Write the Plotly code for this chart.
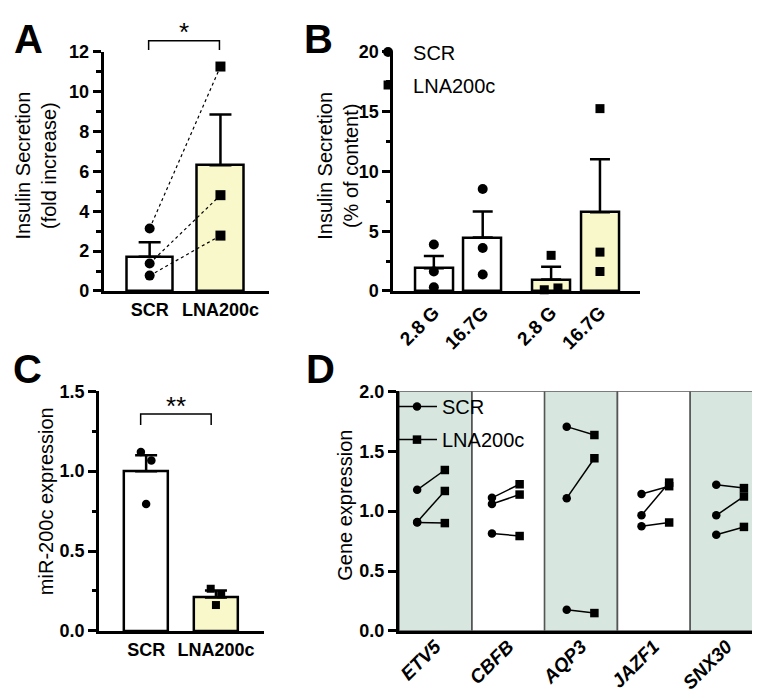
import plotly.graph_objects as go

W, H = 760, 698
FONT = "Arial, Liberation Sans, Helvetica, sans-serif"
YELLOW = "#f8f8ca"
SHADE = "#d7e7e0"

# ---------------- data ----------------
# Panel A: insulin secretion (fold increase)
a_groups = ["SCR", "LNA200c"]
a_mean = [1.72, 6.31]
a_sem = [0.73, 2.55]
a_scr = [3.14, 1.38, 0.77]
a_lna = [11.27, 4.81, 2.78]

# Panel B: insulin secretion (% of content)
b_labels = ["2.8 G", "16.7G", "2.8 G", "16.7G"]
b_mean = [1.90, 4.47, 0.95, 6.59]
b_sem = [1.03, 2.17, 1.08, 4.44]
b_scr_28 = [3.88, 1.63, 0.30]
b_scr_167 = [8.54, 3.60, 1.38]
b_lna_28 = [2.98, 0.10, 0.25]
b_lna_167 = [15.26, 3.25, 1.63]

# Panel C: miR-200c expression
c_groups = ["SCR", "LNA200c"]
c_mean = [1.00, 0.209]
c_sem = [0.10, 0.044]
c_scr = [1.12, 1.066, 0.795]
c_lna = [0.264, 0.229, 0.162]

# Panel D: gene expression, SCR -> LNA200c pairs
d_genes = ["ETV5", "CBFB", "AQP3", "JAZF1", "SNX30"]
d_scr = [[1.178, 0.91, 0.905], [1.111, 1.059, 0.814], [1.705, 1.108, 0.176],
         [1.143, 0.965, 0.873], [1.219, 0.965, 0.803]]
d_lna = [[1.343, 1.168, 0.90], [1.224, 1.138, 0.792], [1.635, 1.441, 0.149],
         [1.208, 1.238, 0.905], [1.192, 1.122, 0.868]]


def px(x):
    return x / W


def py(y):
    return 1 - y / H


fig = go.Figure()

# ---------------- Panel A ----------------
a_pos = [0, 1]
fig.add_trace(go.Bar(
    x=a_pos, y=a_mean, width=0.66,
    marker=dict(color=["white", YELLOW], line=dict(color="black", width=2.5)),
    error_y=dict(type="data", symmetric=False, array=a_sem, arrayminus=[0, 0],
                 color="black", thickness=2.5, width=11),
    xaxis="x", yaxis="y", showlegend=False, hoverinfo="skip"))
xs, ys, syms = [], [], []
for s, l in zip(a_scr, a_lna):
    xs += [a_pos[0], a_pos[1], None]
    ys += [s, l, None]
    syms += ["circle", "square", "circle"]
fig.add_trace(go.Scatter(
    x=xs, y=ys, mode="lines+markers",
    line=dict(color="black", width=1.2, dash="dot"),
    marker=dict(symbol=syms, size=10, color="black"),
    xaxis="x", yaxis="y", showlegend=False, cliponaxis=False))

# ---------------- Panel B ----------------
b_pos = [0, 1, 2.4, 3.4]
jit_b = [0, -0.14, 0.14]
fig.add_trace(go.Bar(
    x=b_pos, y=b_mean, width=0.78,
    marker=dict(color=["white", "white", YELLOW, YELLOW], line=dict(color="black", width=2.5)),
    error_y=dict(type="data", symmetric=False, array=b_sem, arrayminus=[0, 0, 0, 0],
                 color="black", thickness=2.5, width=10),
    xaxis="x2", yaxis="y2", showlegend=False, hoverinfo="skip"))
fig.add_trace(go.Scatter(
    x=[b_pos[0]] * 3 + [b_pos[1]] * 3, y=b_scr_28 + b_scr_167,
    mode="markers", marker=dict(symbol="circle", size=10, color="black"),
    name="SCR", legend="legend", legendgroup="g1",
    xaxis="x2", yaxis="y2", cliponaxis=False))
fig.add_trace(go.Scatter(
    x=[b_pos[2] + j for j in jit_b] + [b_pos[3]] * 3, y=b_lna_28 + b_lna_167,
    mode="markers", marker=dict(symbol="square", size=9, color="black"),
    name="LNA200c", legend="legend", legendgroup="g2",
    xaxis="x2", yaxis="y2", cliponaxis=False))

# ---------------- Panel C ----------------
c_pos = [0, 1]
jit_c = [-0.075, 0.075, 0]
fig.add_trace(go.Bar(
    x=c_pos, y=c_mean, width=0.64,
    marker=dict(color=["white", YELLOW], line=dict(color="black", width=2.5)),
    error_y=dict(type="data", symmetric=False, array=c_sem, arrayminus=[0, 0],
                 color="black", thickness=2.5, width=11),
    xaxis="x3", yaxis="y3", showlegend=False, hoverinfo="skip"))
fig.add_trace(go.Scatter(
    x=[c_pos[0] + j for j in jit_c], y=c_scr, mode="markers",
    marker=dict(symbol="circle", size=8.5, color="black"),
    xaxis="x3", yaxis="y3", showlegend=False, cliponaxis=False))
fig.add_trace(go.Scatter(
    x=[c_pos[1] + j for j in jit_c], y=c_lna, mode="markers",
    marker=dict(symbol="square", size=8, color="black"),
    xaxis="x3", yaxis="y3", showlegend=False, cliponaxis=False))

# ---------------- Panel D ----------------
scr_off, lna_off, step = 0.25, 0.63, 1.027
xs, ys, syms = [], [], []
for i, g in enumerate(d_genes):
    for s, l in zip(d_scr[i], d_lna[i]):
        xs += [scr_off + step * i, lna_off + step * i, None]
        ys += [s, l, None]
        syms += ["circle", "square", "circle"]
fig.add_trace(go.Scatter(
    x=xs, y=ys, mode="lines+markers",
    line=dict(color="black", width=1.5),
    marker=dict(symbol=syms, size=8.5, color="black"),
    xaxis="x4", yaxis="y4", showlegend=False, cliponaxis=False))
fig.add_trace(go.Scatter(
    x=[None], y=[None], mode="lines+markers", name="SCR",
    line=dict(color="black", width=1.5), marker=dict(symbol="circle", size=8.5, color="black"),
    legend="legend2", legendgroup="d1", xaxis="x4", yaxis="y4"))
fig.add_trace(go.Scatter(
    x=[None], y=[None], mode="lines+markers", name="LNA200c",
    line=dict(color="black", width=1.5), marker=dict(symbol="square", size=8.5, color="black"),
    legend="legend2", legendgroup="d2", xaxis="x4", yaxis="y4"))

# ---------------- axes ----------------
tickfont = dict(family=FONT, size=18, color="black", weight="bold")
base = dict(showline=True, linewidth=3, linecolor="black", showgrid=False,
            zeroline=False, fixedrange=True)
yb = dict(base, ticks="outside", ticklen=8, tickwidth=2.5, tickcolor="black",
          tickfont=tickfont)
xb = dict(base, ticks="", tickfont=tickfont)


def minor(d):
    return dict(ticks="outside", ticklen=4.5, tickwidth=2.5, tickcolor="black",
                dtick=d, showgrid=False)


fig.update_layout(
    width=W, height=H, margin=dict(l=0, r=0, t=0, b=0),
    paper_bgcolor="white", plot_bgcolor="rgba(0,0,0,0)",
    font=dict(family=FONT, color="black"),
    bargap=0,
    xaxis=dict(xb, domain=[px(94), px(260)], range=[-0.648, 1.690], anchor="y",
               tickvals=a_pos, ticktext=a_groups),
    yaxis=dict(yb, domain=[py(281), py(35)], range=[0, 12], anchor="x",
               dtick=2, tick0=0, minor=minor(1)),
    xaxis2=dict(xb, domain=[px(384.3), px(631.7)], range=[-0.83, 4.22], anchor="y2",
                tickvals=b_pos, ticktext=b_labels, tickangle=-45,
                tickfont=dict(family=FONT, size=19, color="black", weight="bold")),
    yaxis2=dict(yb, domain=[py(281), py(35)], range=[0, 20], anchor="x2",
                dtick=5, tick0=0, minor=minor(2.5)),
    xaxis3=dict(xb, domain=[px(89.3), px(255)], range=[-0.674, 1.693], anchor="y3",
                tickvals=c_pos, ticktext=c_groups),
    yaxis3=dict(yb, domain=[py(631), py(384.3)], range=[0, 1.5], anchor="x3",
                dtick=0.5, tick0=0, tickformat=".1f", minor=minor(0.25)),
    xaxis4=dict(xb, domain=[px(390), px(755)], range=[0, 5], anchor="y4",
                tickvals=[i + 0.5 for i in range(len(d_genes))], ticktext=d_genes,
                tickangle=-45, ticklabelstandoff=-6,
                tickfont=dict(family=FONT, size=19, color="black", weight="bold", style="italic")),
    yaxis4=dict(yb, domain=[py(631), py(384.3)], range=[0, 2], anchor="x4",
                dtick=0.5, tick0=0, tickformat=".1f"),
    legend=dict(x=px(354), y=py(15), xanchor="left", yanchor="top",
                bgcolor="rgba(0,0,0,0)", font=dict(family=FONT, size=20, color="black"),
                itemwidth=40, traceorder="grouped", tracegroupgap=4, itemclick=False),
    legend2=dict(x=px(383), y=py(380), xanchor="left", yanchor="top",
                 bgcolor="rgba(0,0,0,0)", font=dict(family=FONT, size=20, color="black"),
                 itemwidth=40, traceorder="grouped", tracegroupgap=4, itemclick=False),
)

# ---------------- shapes ----------------
shapes = []
for i in range(len(d_genes)):
    shapes.append(dict(type="rect", xref="x4", yref="y4", x0=i, x1=i + 1, y0=0, y1=2,
                       fillcolor=SHADE if i % 2 == 0 else "rgba(0,0,0,0)",
                       line=dict(color="#555555", width=1.5), layer="below"))


def bracket(x0, x1, ytop, ybot):
    return dict(type="path", xref="paper", yref="paper",
                path=f"M {px(x0)},{py(ybot)} L {px(x0)},{py(ytop)} L {px(x1)},{py(ytop)} L {px(x1)},{py(ybot)}",
                line=dict(color="black", width=1.5))


shapes.append(bracket(139, 210, 23.3, 33))
shapes.append(bracket(131, 201.7, 407.7, 419))
fig.update_layout(shapes=shapes)

# ---------------- annotations ----------------
ann = []


def text(x, y, t, size, bold=False, angle=0, xanchor="center", yanchor="middle"):
    ann.append(dict(x=px(x), y=py(y), xref="paper", yref="paper", text=t, showarrow=False,
                    textangle=angle, xanchor=xanchor, yanchor=yanchor,
                    font=dict(family=FONT, size=size, color="black",
                              weight="bold" if bold else "normal")))


text(19, 22, "A", 40, True)
text(309, 22, "B", 40, True)
text(18, 361, "C", 40, True)
text(311, 361, "D", 40, True)
text(26, 152, "Insulin Secretion<br>(fold increase)", 20, angle=-90)
text(329, 152, "Insulin Secretion<br>(% of content)", 20, angle=-90)
text(36, 497.5, "miR-200c expression", 20, angle=-90)
text(335, 502, "Gene expression", 20, angle=-90)
text(174, 14, "*", 26)
text(166, 399, "**", 26)
fig.update_layout(annotations=ann)

fig.write_html("out.html")
